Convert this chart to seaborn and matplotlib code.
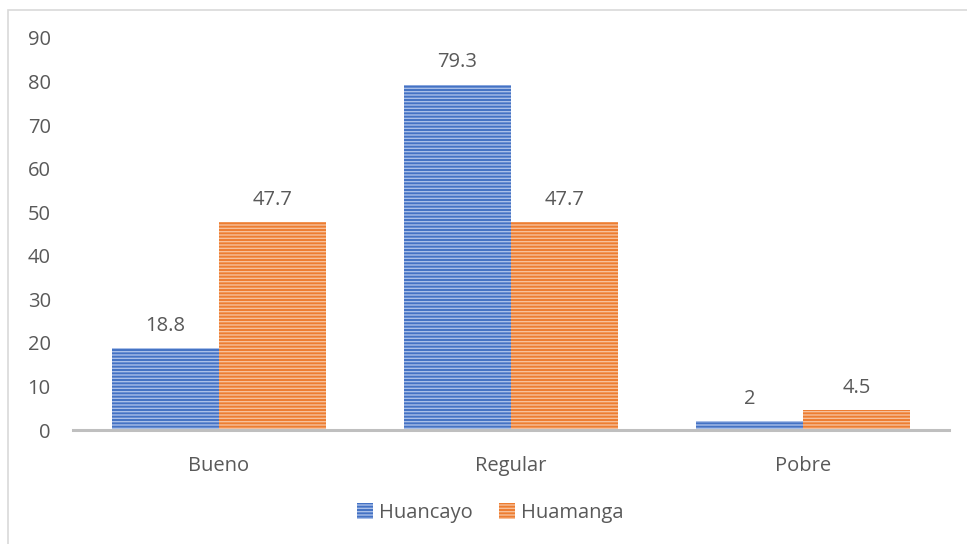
import matplotlib
matplotlib.use("Agg")
import matplotlib.pyplot as plt
import seaborn as sns
import pandas as pd
from matplotlib.patches import Patch, Rectangle

categories = ["Bueno", "Regular", "Pobre"]
huancayo = [18.8, 79.3, 2]
huamanga = [47.7, 47.7, 4.5]
series_names = ["Huancayo", "Huamanga"]
yticks = [0, 10, 20, 30, 40, 50, 60, 70, 80, 90]

df = pd.DataFrame({
    "cat": categories * 2,
    "val": huancayo + huamanga,
    "serie": [series_names[0]] * 3 + [series_names[1]] * 3,
})

sns.set_theme(style="white")
plt.rcParams["font.family"] = ["Open Sans", "DejaVu Sans"]
plt.rcParams["hatch.linewidth"] = 1.0

face = {"Huancayo": "#4472C4", "Huamanga": "#ED7D31"}
hatchc = {"Huancayo": "#A9BFE8", "Huamanga": "#F7C09A"}
txt = "#595959"
fs = 14.5

fig = plt.figure(figsize=(9.67, 5.44), dpi=100)
ax = fig.add_axes([73 / 967, 114 / 544, (949 - 73) / 967, (506 - 114) / 544])

sns.barplot(data=df, x="cat", y="val", hue="serie", order=categories,
            hue_order=series_names, palette=face, width=0.733, ax=ax,
            legend=False, saturation=1)

for cont, name in zip(ax.containers, series_names):
    for p in cont:
        p.set_facecolor(face[name])
        p.set_edgecolor(hatchc[name])
        p.set_hatch("-----")
        p.set_linewidth(0)
    ax.bar_label(cont, labels=[f"{v:g}" for v in cont.datavalues],
                 padding=9, fontsize=fs, color=txt)

ax.set_ylim(0, 90)
ax.set_yticks(yticks)
ax.set_xlim(-0.5, 2.5)
ax.set_xlabel("")
ax.set_ylabel("")
for s in ["top", "right", "left"]:
    ax.spines[s].set_visible(False)
ax.spines["bottom"].set_color("#BFBFBF")
ax.spines["bottom"].set_linewidth(2.2)
ax.tick_params(axis="y", length=0, pad=16, labelsize=fs, labelcolor=txt)
ax.tick_params(axis="x", length=0, pad=19, labelsize=fs, labelcolor=txt)

handles = [Patch(facecolor=face[n], edgecolor=hatchc[n], hatch="-----", linewidth=0, label=n)
           for n in series_names]
fig.legend(handles=handles, loc="center", bbox_to_anchor=(490 / 967, 1 - 513 / 544),
           ncol=2, frameon=False, fontsize=fs, labelcolor=txt,
           handlelength=0.8, handleheight=0.8, handletextpad=0.3, columnspacing=1.3)

fig.patches.append(Rectangle((8 / 967, -0.05), 1.2, 1.05 - 10 / 544, transform=fig.transFigure,
                             fill=False, edgecolor="#D9D9D9", linewidth=1.2))

fig.savefig("out.png", dpi=100)
